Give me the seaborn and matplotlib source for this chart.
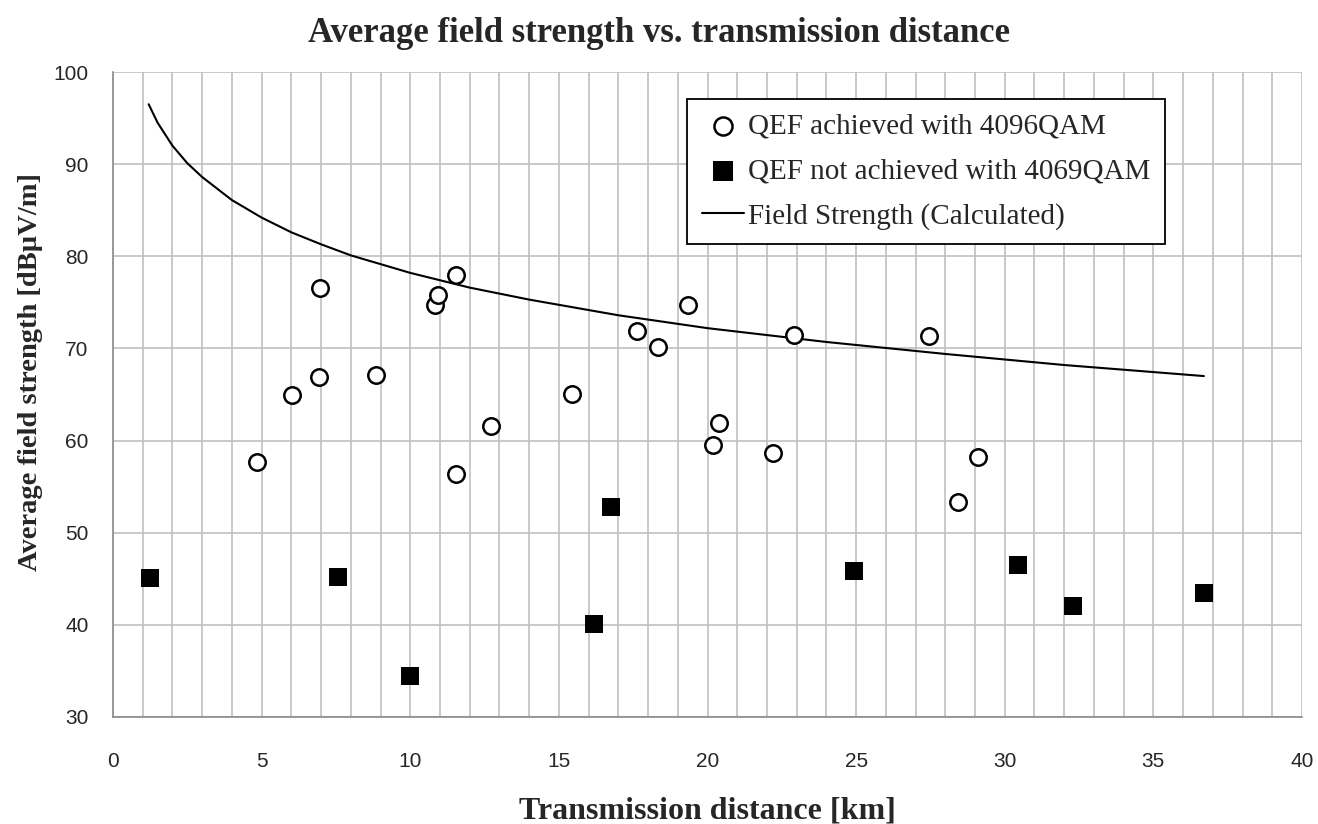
import pandas as pd
import matplotlib
matplotlib.use('Agg')
import matplotlib.pyplot as plt
import seaborn as sns
from matplotlib.ticker import MultipleLocator

# QEF achieved (open circles)
ok_dist = [4.84, 6.02, 6.93, 6.96, 8.85, 10.83, 10.93, 11.54, 11.54, 12.72, 15.44,
           17.63, 18.34, 19.34, 20.2, 20.4, 22.2, 22.9, 27.45, 28.43, 29.1]
ok_field = [57.7, 64.9, 66.9, 76.6, 67.1, 74.7, 75.8, 78.0, 56.4, 61.6, 65.1,
            71.9, 70.2, 74.7, 59.5, 61.9, 58.6, 71.5, 71.3, 53.3, 58.2]

# QEF not achieved (filled squares)
fail_dist = [1.24, 7.57, 9.99, 16.18, 16.75, 24.93, 30.45, 32.3, 36.7]
fail_field = [45.1, 45.2, 34.4, 40.1, 52.8, 45.8, 46.5, 42.0, 43.5]

# calculated field strength curve
calc_dist = [1.2, 1.5, 2, 2.5, 3, 4, 5, 6, 7, 8, 10, 12, 14, 17, 20, 24, 28, 32, 36.7]
calc_field = [96.5, 94.5, 92.0, 90.1, 88.6, 86.1, 84.2, 82.6, 81.3, 80.1, 78.2,
              76.6, 75.3, 73.6, 72.2, 70.7, 69.4, 68.2, 67.0]

ok_df = pd.DataFrame({'dist': ok_dist, 'field': ok_field})
fail_df = pd.DataFrame({'dist': fail_dist, 'field': fail_field})
calc_df = pd.DataFrame({'dist': calc_dist, 'field': calc_field})

sns.set_style('white')
serif = ['Liberation Serif', 'DejaVu Serif']
sans = ['Liberation Sans', 'DejaVu Sans']

W, H = 1318, 824
fig = plt.figure(figsize=(W / 100, H / 100), dpi=100)
ax = fig.add_axes([113 / W, 1 - 717 / H, (1302 - 113) / W, (717 - 72) / H])

sns.scatterplot(data=ok_df, x='dist', y='field', ax=ax, marker='o', s=140,
                facecolor='white', edgecolor='black', linewidth=1.8,
                label='QEF achieved with 4096QAM', zorder=4)
sns.scatterplot(data=fail_df, x='dist', y='field', ax=ax, marker='s', s=185,
                color='black', edgecolor='black', linewidth=0,
                label='QEF not achieved with 4069QAM', zorder=4)
sns.lineplot(data=calc_df, x='dist', y='field', ax=ax, color='black', linewidth=1.5,
             label='Field Strength (Calculated)', zorder=3)

ax.set_xlim(0, 40)
ax.set_ylim(30, 100)
ax.xaxis.set_major_locator(MultipleLocator(5))
ax.xaxis.set_minor_locator(MultipleLocator(1))
ax.yaxis.set_major_locator(MultipleLocator(10))
ax.grid(which='both', axis='x', color='#c0c0c0', linewidth=1.2)
ax.grid(which='major', axis='y', color='#c0c0c0', linewidth=1.2)
ax.set_axisbelow(True)

for side in ['top', 'right']:
    ax.spines[side].set_visible(False)
for side in ['left', 'bottom']:
    ax.spines[side].set_color('#8a8a8a')
    ax.spines[side].set_linewidth(1.2)
ax.tick_params(axis='both', which='major', direction='out', length=6.5, width=1.2,
               color='#8a8a8a', labelsize=15)
ax.tick_params(axis='x', which='major', pad=19)
ax.tick_params(axis='y', which='major', pad=11)
ax.tick_params(axis='both', which='minor', length=0)
for lbl in ax.get_xticklabels() + ax.get_yticklabels():
    lbl.set_family(sans)

ax.set_xlabel('Transmission distance [km]', family=serif, fontweight='bold',
              fontsize=23, labelpad=18)
ax.set_ylabel('Average field strength [dBµV/m]', family=serif, fontweight='bold',
              fontsize=20.5)
ax.yaxis.set_label_coords(-0.059, 0.535)
fig.text(0.5, 1 - 33 / H, 'Average field strength vs. transmission distance',
         ha='center', va='center', family=serif, fontweight='bold', fontsize=25)

leg = ax.legend(loc='upper left', bbox_to_anchor=((687 - 113) / 1189, 1 - (99 - 72) / 645),
                prop={'family': serif, 'size': 21}, frameon=True, fancybox=False,
                edgecolor='black', handlelength=1.45, handletextpad=0.15,
                labelspacing=0.62, borderpad=0.5, borderaxespad=0, markerscale=1.1)
leg.get_frame().set_linewidth(1.3)
leg.get_frame().set_alpha(1)

fig.savefig('out.png', dpi=100, facecolor='white')
